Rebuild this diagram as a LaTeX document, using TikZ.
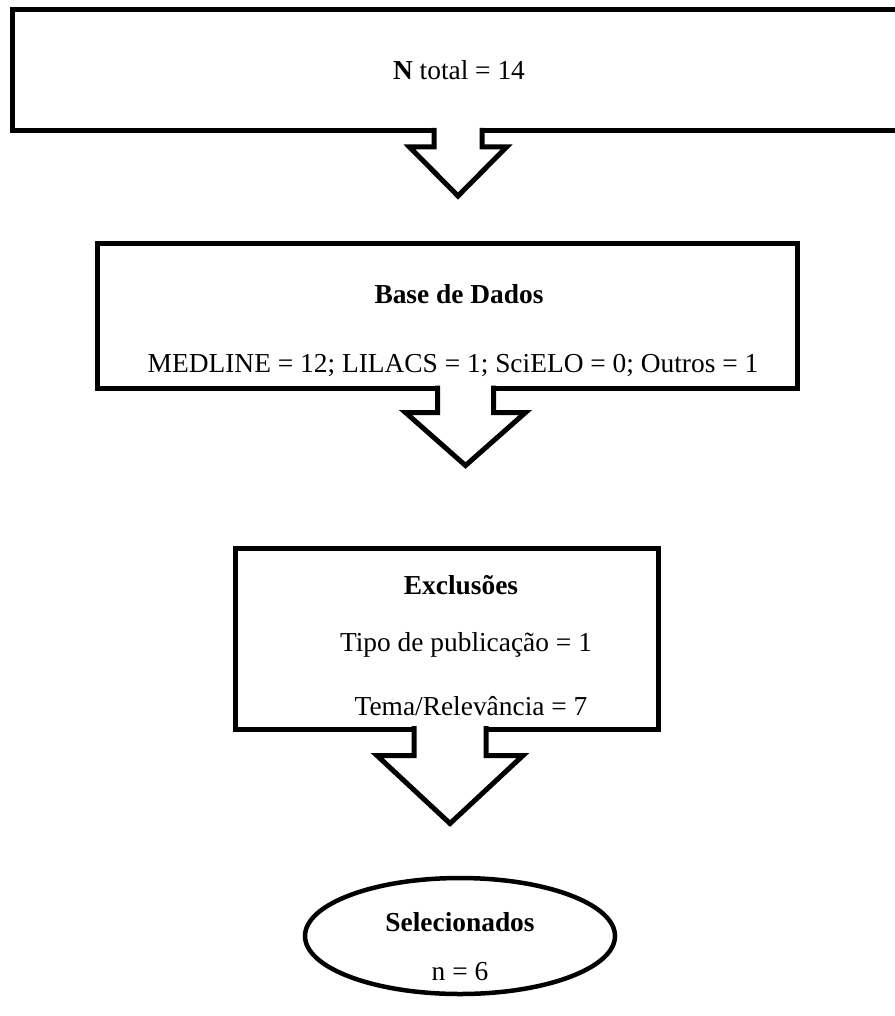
\documentclass[tikz,border=0pt]{standalone}
\usepackage{fontspec}
\setmainfont{Liberation Serif}
\usetikzlibrary{shapes.geometric,calc}
\begin{document}
\begin{tikzpicture}[x=1pt,y=-1pt,
  box/.style={draw, line width=5pt, rectangle, inner sep=0pt, outer sep=0pt},
  oval/.style={draw, line width=4.5pt, ellipse, inner sep=0pt, outer sep=0pt},
  txt/.style={inner sep=0pt, font=\fontsize{27.4}{32}\selectfont},
  blockarrow/.style={draw, fill=white, line width=5pt, line join=miter}]
\useasboundingbox (0,0) rectangle (894,1016);
% boxes
\node[box, minimum width=888pt, minimum height=121.5pt] (b1) at (456,70.25) {};
\node[box, minimum width=700pt, minimum height=145pt] (b2) at (447,316) {};
\node[box, minimum width=423pt, minimum height=181pt] (b3) at (446.5,638.5) {};
\node[oval, minimum width=310pt, minimum height=116pt] (e1) at (460,936) {};
% texts
\node[txt] (t1) at (459,70) {\textbf{N} total = 14};
\node[txt] (t2) at (459,294) {\textbf{Base de Dados}};
\node[txt] (t3) at (453,365) {MEDLINE = 12; LILACS = 1; SciELO = 0; Outros = 1};
\node[txt] (t4) at (461,585) {\textbf{Exclusões}};
\node[txt] (t5) at (466,645) {Tipo de publicação = 1};
\node[txt] (t6) at (471,706) {Tema/Relevância = 7};
\node[txt] (t7) at (460,922) {\textbf{Selecionados}};
\node[txt] (t8) at (460,972) {n = 6};
% arrow axes
\coordinate (a1) at (458,0);
\coordinate (a2) at (465.5,0);
\coordinate (a3) at (450,0);
% block arrows
\draw[blockarrow] ($(b1.south -| a1)+(-24,-3)$) -- ++(0,19) -- ++(-24.5,0) -- ++(48.5,49) -- ++(48.5,-49) -- ++(-24.5,0) -- ++(0,-19);
\draw[blockarrow] ($(b2.south -| a2)+(-28,-3)$) -- ++(0,27) -- ++(-32,0) -- ++(60,53) -- ++(60,-53) -- ++(-32,0) -- ++(0,-27);
\draw[blockarrow] ($(b3.south -| a3)+(-36,-3)$) -- ++(0,29.5) -- ++(-37,0) -- ++(73,68) -- ++(73,-68) -- ++(-37,0) -- ++(0,-29.5);
\end{tikzpicture}
\end{document}
